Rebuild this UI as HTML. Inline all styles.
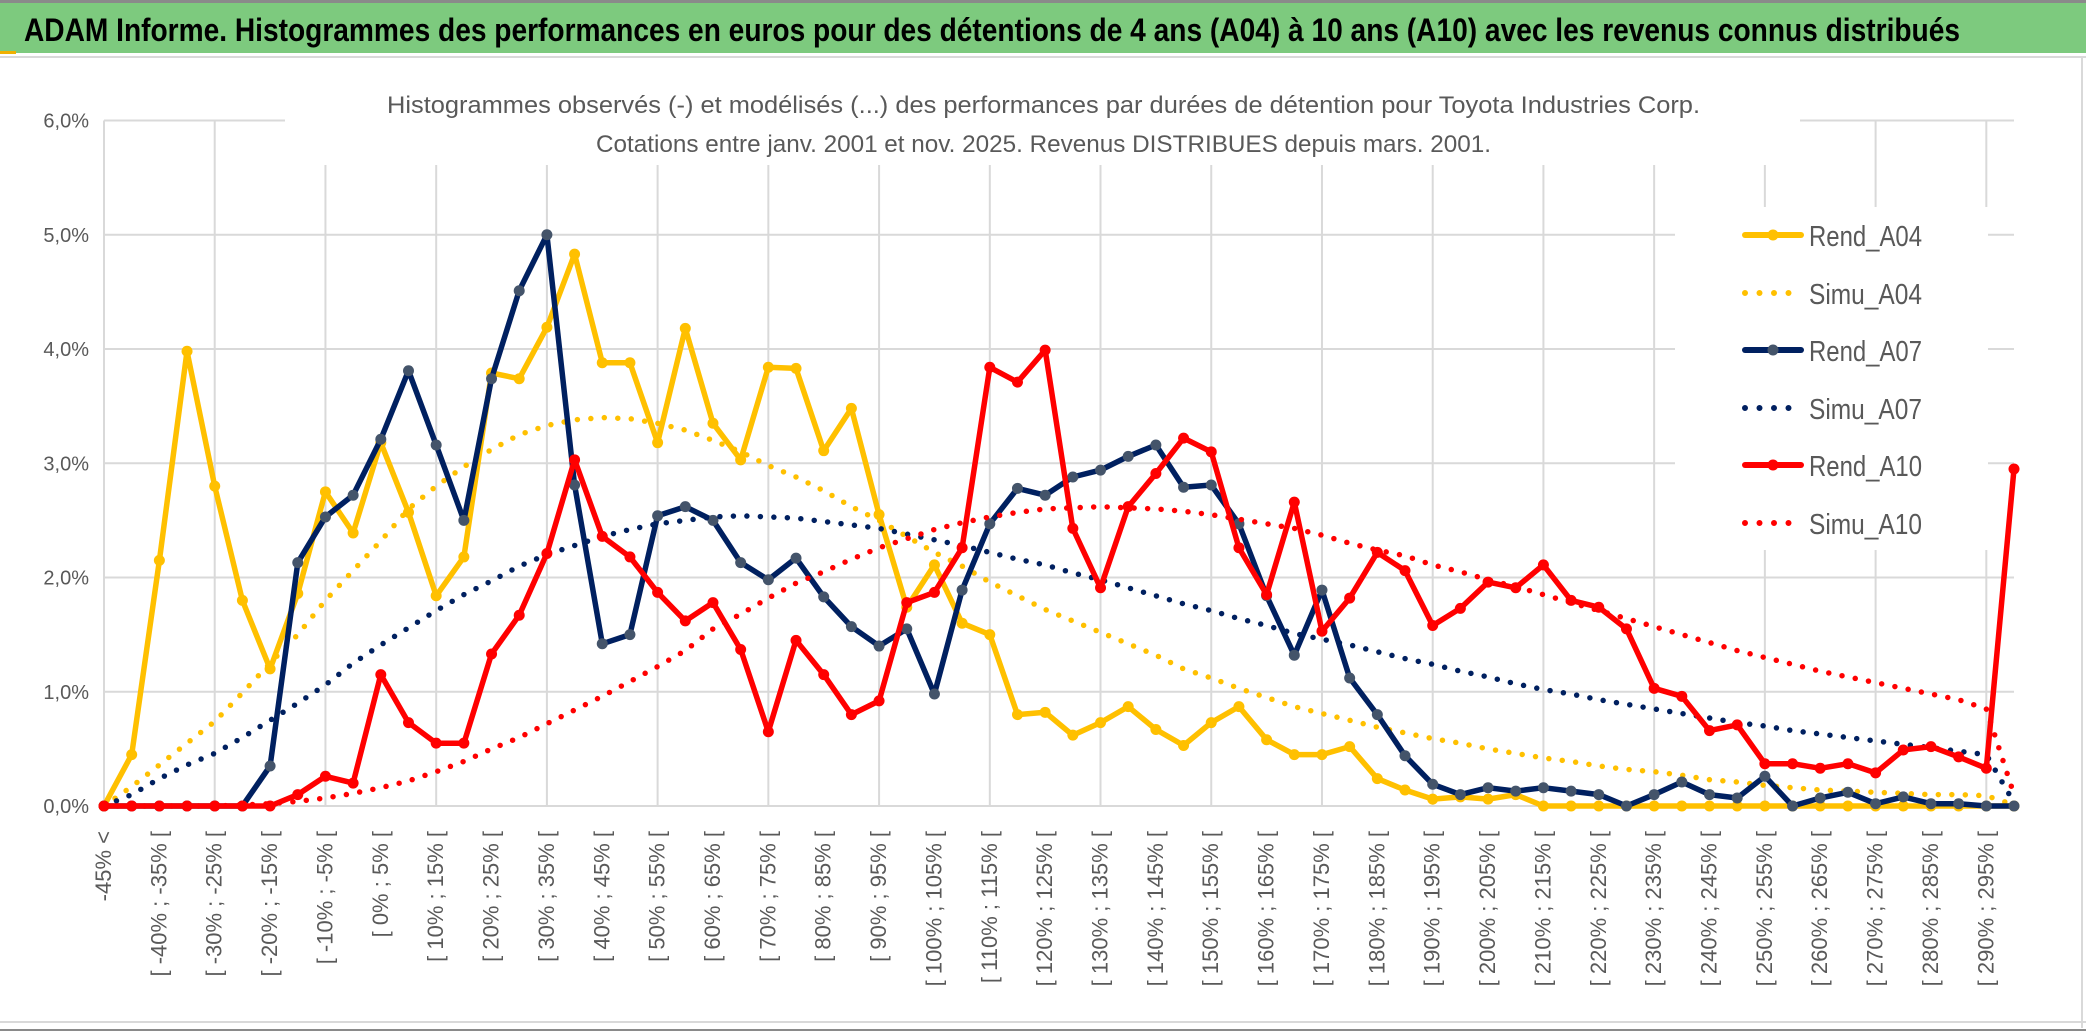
<!DOCTYPE html>
<html><head><meta charset="utf-8"><style>
html,body{margin:0;padding:0;background:#fff;}
svg{display:block;font-family:"Liberation Sans",sans-serif;}
</style></head><body>
<svg id="chart" width="2086" height="1033" viewBox="0 0 2086 1033" xmlns="http://www.w3.org/2000/svg">
<rect x="0" y="0" width="2086" height="1033" fill="#fff"/>
<rect x="0" y="0" width="2086" height="3" fill="#8a8a8a"/>
<rect x="0" y="3" width="2086" height="50" fill="#7dca7e"/>
<rect x="0" y="51" width="16" height="3" fill="#f0b000"/>
<rect x="0" y="56" width="2086" height="2" fill="#d9d9d9"/>
<text x="24" y="41" font-size="32" font-weight="bold" fill="#000" textLength="1936" lengthAdjust="spacingAndGlyphs">ADAM Informe. Histogrammes des performances en euros pour des détentions de 4 ans (A04) à 10 ans (A10) avec les revenus connus distribués</text>
<rect x="2081" y="58" width="2" height="970" fill="#d9d9d9"/>
<rect x="0" y="1021" width="2086" height="2" fill="#d9d9d9"/>
<rect x="0" y="1029" width="2086" height="2" fill="#8a8a8a"/>
<g id="grid"></g>
<g id="yaxis"></g>
<g id="xaxis"></g>
<rect x="285" y="80" width="1515" height="85" fill="#fff"/>
<text x="387" y="113" font-size="24" fill="#595959" textLength="1313" lengthAdjust="spacingAndGlyphs">Histogrammes observés (-) et modélisés (...) des performances par durées de détention pour Toyota Industries Corp.</text>
<text x="596" y="152" font-size="24" fill="#595959" textLength="895" lengthAdjust="spacingAndGlyphs">Cotations entre janv. 2001 et nov. 2025. Revenus DISTRIBUES depuis mars. 2001.</text>
<rect x="1675" y="207" width="313" height="343" fill="#fff"/>
<g id="series"></g>
<g id="legend"></g>
</svg>
<script>
const categories = ["-45% <","[ -45% ; -40% [","[ -40% ; -35% [","[ -35% ; -30% [","[ -30% ; -25% [","[ -25% ; -20% [","[ -20% ; -15% [","[ -15% ; -10% [","[ -10% ; -5% [","[ -5% ; 0% [","[ 0% ; 5% [","[ 5% ; 10% [","[ 10% ; 15% [","[ 15% ; 20% [","[ 20% ; 25% [","[ 25% ; 30% [","[ 30% ; 35% [","[ 35% ; 40% [","[ 40% ; 45% [","[ 45% ; 50% [","[ 50% ; 55% [","[ 55% ; 60% [","[ 60% ; 65% [","[ 65% ; 70% [","[ 70% ; 75% [","[ 75% ; 80% [","[ 80% ; 85% [","[ 85% ; 90% [","[ 90% ; 95% [","[ 95% ; 100% [","[ 100% ; 105% [","[ 105% ; 110% [","[ 110% ; 115% [","[ 115% ; 120% [","[ 120% ; 125% [","[ 125% ; 130% [","[ 130% ; 135% [","[ 135% ; 140% [","[ 140% ; 145% [","[ 145% ; 150% [","[ 150% ; 155% [","[ 155% ; 160% [","[ 160% ; 165% [","[ 165% ; 170% [","[ 170% ; 175% [","[ 175% ; 180% [","[ 180% ; 185% [","[ 185% ; 190% [","[ 190% ; 195% [","[ 195% ; 200% [","[ 200% ; 205% [","[ 205% ; 210% [","[ 210% ; 215% [","[ 215% ; 220% [","[ 220% ; 225% [","[ 225% ; 230% [","[ 230% ; 235% [","[ 235% ; 240% [","[ 240% ; 245% [","[ 245% ; 250% [","[ 250% ; 255% [","[ 255% ; 260% [","[ 260% ; 265% [","[ 265% ; 270% [","[ 270% ; 275% [","[ 275% ; 280% [","[ 280% ; 285% [","[ 285% ; 290% [","[ 290% ; 295% [","[ 295% ; 300% ["];
const yTicks = [0,1,2,3,4,5,6];
const yTickLabels = ["0,0%","1,0%","2,0%","3,0%","4,0%","5,0%","6,0%"];
const rendA04 = [0,0.45,2.15,3.98,2.8,1.8,1.2,1.86,2.75,2.39,3.18,2.57,1.84,2.18,3.79,3.74,4.19,4.83,3.88,3.88,3.18,4.18,3.35,3.03,3.84,3.83,3.11,3.48,2.55,1.74,2.11,1.6,1.5,0.8,0.82,0.62,0.73,0.87,0.67,0.53,0.73,0.87,0.58,0.45,0.45,0.52,0.24,0.14,0.06,0.08,0.06,0.1,0,0,0,0,0,0,0,0,0,0,0,0,0,0,0,0,0,0];
const simuA04 = [0,0.17,0.36,0.55,0.74,0.99,1.25,1.5,1.8,2.06,2.32,2.6,2.8,2.97,3.12,3.25,3.33,3.38,3.40,3.39,3.35,3.29,3.2,3.1,2.98,2.88,2.76,2.62,2.5,2.36,2.22,2.1,1.96,1.84,1.72,1.62,1.52,1.42,1.32,1.2,1.12,1.03,0.95,0.87,0.81,0.75,0.69,0.64,0.59,0.55,0.5,0.46,0.42,0.39,0.35,0.32,0.3,0.27,0.23,0.21,0.18,0.16,0.14,0.13,0.12,0.11,0.1,0.1,0.09,0.01];
const rendA07 = [0,0,0,0,0,0,0.35,2.13,2.53,2.72,3.21,3.81,3.16,2.5,3.74,4.51,5.0,2.81,1.42,1.5,2.54,2.62,2.5,2.13,1.98,2.17,1.83,1.57,1.4,1.55,0.98,1.89,2.47,2.78,2.72,2.88,2.94,3.06,3.16,2.79,2.81,2.47,1.84,1.32,1.89,1.12,0.8,0.44,0.19,0.1,0.16,0.13,0.16,0.13,0.1,0,0.1,0.21,0.1,0.07,0.26,0,0.07,0.12,0.02,0.08,0.02,0.02,0,0];
const simuA07 = [0,0.1,0.24,0.36,0.46,0.6,0.75,0.9,1.06,1.25,1.41,1.56,1.71,1.85,1.97,2.1,2.2,2.28,2.36,2.42,2.47,2.5,2.53,2.54,2.53,2.52,2.49,2.46,2.43,2.38,2.33,2.28,2.22,2.16,2.11,2.04,1.98,1.91,1.84,1.77,1.71,1.64,1.58,1.51,1.46,1.41,1.35,1.29,1.24,1.18,1.13,1.07,1.02,0.98,0.93,0.89,0.85,0.81,0.77,0.73,0.70,0.66,0.63,0.6,0.57,0.54,0.51,0.48,0.45,0.03];
const rendA10 = [0,0,0,0,0,0,0,0.1,0.26,0.2,1.15,0.73,0.55,0.55,1.33,1.67,2.21,3.03,2.36,2.18,1.87,1.62,1.78,1.37,0.65,1.45,1.15,0.8,0.92,1.78,1.87,2.26,3.84,3.71,3.99,2.43,1.91,2.62,2.91,3.22,3.1,2.26,1.85,2.66,1.53,1.82,2.22,2.06,1.58,1.73,1.96,1.91,2.11,1.8,1.74,1.55,1.03,0.96,0.66,0.71,0.37,0.37,0.33,0.37,0.29,0.49,0.52,0.43,0.33,2.95];
const simuA10 = [0,0,0,0,0,0.01,0.02,0.04,0.07,0.11,0.16,0.22,0.3,0.39,0.5,0.6,0.72,0.84,0.96,1.09,1.22,1.36,1.55,1.68,1.82,1.95,2.05,2.16,2.26,2.34,2.42,2.48,2.53,2.57,2.6,2.61,2.62,2.61,2.6,2.58,2.55,2.51,2.47,2.43,2.37,2.3,2.24,2.19,2.11,2.05,1.98,1.92,1.85,1.78,1.71,1.64,1.57,1.5,1.43,1.36,1.3,1.24,1.18,1.13,1.08,1.03,0.98,0.93,0.85,0.1];
const seriesNames = ["Rend_A04","Simu_A04","Rend_A07","Simu_A07","Rend_A10","Simu_A10"];

const NS = "http://www.w3.org/2000/svg";
const X0 = 104, X1 = 2014, Y0 = 806, YPER = 114.25;
function xPos(i){ return X0 + i * (X1 - X0) / (categories.length - 1); }
function yPos(v){ return Y0 - v * YPER; }
function mk(tag, attrs, parent){
  const e = document.createElementNS(NS, tag);
  for (const k in attrs) e.setAttribute(k, attrs[k]);
  parent.appendChild(e);
  return e;
}
const grid = document.getElementById('grid');
const yaxis = document.getElementById('yaxis');
const xaxis = document.getElementById('xaxis');
yTicks.forEach((t, i) => {
  const l = mk('line', {x1: X0, x2: X1, y1: yPos(t), y2: yPos(t), stroke: '#d9d9d9', 'stroke-width': 2}, grid);
  
  
  const tx = mk('text', {x: 89, y: yPos(t) + 7, 'font-size': 20, fill: '#595959', 'text-anchor': 'end'}, yaxis);
  tx.textContent = yTickLabels[i];
  
  
});
for (let i = 0; i < categories.length; i += 4) {
  const l = mk('line', {x1: xPos(i), x2: xPos(i), y1: yPos(6), y2: Y0, stroke: '#d9d9d9', 'stroke-width': 2}, grid);
  
  
}
for (let i = 0; i < categories.length; i += 2) {
  const x = xPos(i) + 7, y = 831;
  const tx = mk('text', {x: x, y: y, 'font-size': 22, fill: '#595959', 'text-anchor': 'end', transform: 'rotate(-90 ' + x + ' ' + y + ')'}, xaxis);
  tx.textContent = categories[i];
  
  
}
const seriesDefs = [
  {data: rendA04, color: '#ffc000', marker: '#ffc000', dotted: false},
  {data: simuA04, color: '#ffc000', dotted: true},
  {data: rendA07, color: '#002060', marker: '#44546a', dotted: false},
  {data: simuA07, color: '#002060', dotted: true},
  {data: rendA10, color: '#ff0000', marker: '#ff0000', dotted: false},
  {data: simuA10, color: '#ff0000', dotted: true}
];
const sg = document.getElementById('series');
seriesDefs.forEach((s, si) => {
  const g = mk('g', {}, sg);
  
  
  const pts = s.data.map((v, i) => xPos(i).toFixed(1) + ',' + yPos(v).toFixed(1)).join(' ');
  const attrs = {points: pts, fill: 'none', stroke: s.color, 'stroke-linejoin': 'round', 'stroke-linecap': 'round'};
  if (s.dotted) { attrs['stroke-width'] = 5.5; attrs['stroke-dasharray'] = '0 13.5'; }
  else { attrs['stroke-width'] = 5.5; }
  const pl = mk('polyline', attrs, g);
  
  
  if (!s.dotted) {
    s.data.forEach((v, i) => {
      const c = mk('circle', {cx: xPos(i), cy: yPos(v), r: 5.5, fill: s.marker}, g);
      
      
    });
  }
});
const lg = document.getElementById('legend');
const legendY = [235, 293, 350, 408, 465, 523];
seriesDefs.forEach((s, si) => {
  const g = mk('g', {}, lg);
  
  
  const y = legendY[si];
  if (s.dotted) {
    mk('line', {x1: 1745, x2: 1800, y1: y, y2: y, stroke: s.color, 'stroke-width': 6, 'stroke-linecap': 'round', 'stroke-dasharray': '0 14.5'}, g);
  } else {
    mk('line', {x1: 1745, x2: 1801, y1: y, y2: y, stroke: s.color, 'stroke-width': 6, 'stroke-linecap': 'round'}, g);
    mk('circle', {cx: 1773, cy: y, r: 5.5, fill: s.marker}, g);
  }
  const t = mk('text', {x: 1809, y: y + 11, 'font-size': 29, fill: '#595959', textLength: 113, lengthAdjust: 'spacingAndGlyphs'}, g);
  t.textContent = seriesNames[si];
});
</script>
</body></html>
